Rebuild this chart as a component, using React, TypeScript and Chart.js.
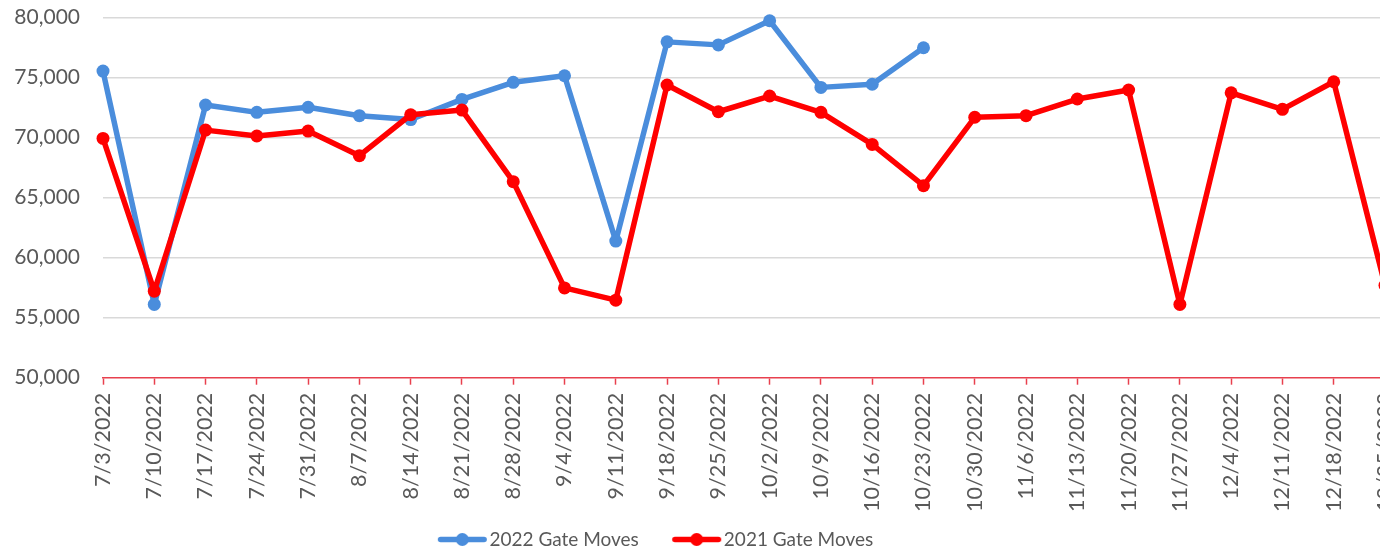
import React, { useEffect, useRef } from "react";
import { Chart, registerables } from "chart.js";

Chart.register(...registerables);

const categories = [
  "7/3/2022", "7/10/2022", "7/17/2022", "7/24/2022", "7/31/2022", "8/7/2022",
  "8/14/2022", "8/21/2022", "8/28/2022", "9/4/2022", "9/11/2022", "9/18/2022",
  "9/25/2022", "10/2/2022", "10/9/2022", "10/16/2022", "10/23/2022", "10/30/2022",
  "11/6/2022", "11/13/2022", "11/20/2022", "11/27/2022", "12/4/2022", "12/11/2022",
  "12/18/2022", "12/25/2022",
];

const gateMoves2022: (number | null)[] = [
  75540, 56100, 72710, 72100, 72520, 71820, 71500, 73180, 74600, 75150, 61380, 77970,
  77720, 79730, 74180, 74440, 77480, null, null, null, null, null, null, null, null, null,
];

const gateMoves2021: number[] = [
  69930, 57210, 70620, 70130, 70540, 68490, 71900, 72290, 66330, 57480, 56460, 74380,
  72150, 73460, 72100, 69430, 65990, 71690, 71820, 73210, 73960, 56100, 73730, 72350,
  74650, 57700,
];

const seriesLabels = ["2022 Gate Moves", "2021 Gate Moves"];
const yMin = 50000;
const yMax = 80000;
const yStep = 5000;

const BLUE = "#4a8ddc";
const RED = "#ff0000";
const TEXT = "#595959";
const GRID = "#d9d9d9";
const AXIS = "#e8404e";

const SHIFT = 90;
const PAD_R = 40;
const CANVAS_W = 1515;
const CANVAS_H = 551;

function legendIcon(color: string): HTMLCanvasElement {
  const c = document.createElement("canvas");
  c.width = 74;
  c.height = 15;
  const g = c.getContext("2d")!;
  const cx = 48.45;
  g.strokeStyle = color;
  g.lineWidth = 5.5;
  g.lineCap = "round";
  g.beginPath();
  g.moveTo(cx - 21.75, 7.5);
  g.lineTo(cx + 21.75, 7.5);
  g.stroke();
  g.fillStyle = color;
  g.beginPath();
  g.arc(cx, 7.5, 6.5, 0, Math.PI * 2);
  g.fill();
  return c;
}

export default function App() {
  const ref = useRef<HTMLCanvasElement>(null);

  useEffect(() => {
    const canvas = ref.current!;
    const icons: Record<string, HTMLCanvasElement> = {
      [seriesLabels[0]]: legendIcon(BLUE),
      [seriesLabels[1]]: legendIcon(RED),
    };
    const lineStyle = {
      borderWidth: 5.5,
      borderJoinStyle: "round" as const,
      borderCapStyle: "round" as const,
      pointRadius: 6.5,
      pointBorderWidth: 0,
      tension: 0,
      clip: false as const,
    };
    const chart = new Chart(canvas, {
      type: "line",
      data: {
        labels: categories,
        datasets: [
          {
            label: seriesLabels[1],
            data: gateMoves2021,
            borderColor: RED,
            backgroundColor: RED,
            pointBackgroundColor: RED,
            pointBorderColor: RED,
            ...lineStyle,
          },
          {
            label: seriesLabels[0],
            data: gateMoves2022,
            borderColor: BLUE,
            backgroundColor: BLUE,
            pointBackgroundColor: BLUE,
            pointBorderColor: BLUE,
            spanGaps: false,
            ...lineStyle,
          },
        ],
      },
      options: {
        responsive: false,
        maintainAspectRatio: false,
        animation: false,
        events: [],
        layout: { padding: { left: 0, right: PAD_R, top: 17.5, bottom: -8 } },
        scales: {
          x: {
            type: "category",
            offset: false,
            grid: {
              drawOnChartArea: false,
              drawTicks: true,
              tickLength: 7,
              tickColor: AXIS,
              tickWidth: 1.5,
              color: AXIS,
            },
            border: { display: true, color: AXIS, width: 1.5 },
            ticks: {
              autoSkip: false,
              minRotation: 90,
              maxRotation: 90,
              padding: 8,
              color: TEXT,
              font: { family: "Lato", size: 21.5 },
            },
            afterFit: (s: any) => {
              s.height = 135;
            },
          },
          y: {
            min: yMin,
            max: yMax,
            ticks: {
              stepSize: yStep,
              padding: 0,
              color: TEXT,
              font: { family: "Lato", size: 21 },
              callback: (v: any) => Number(v).toLocaleString("en-US"),
            },
            grid: {
              color: (ctx: any) =>
                ctx.tick && ctx.tick.value === yMin ? "rgba(0,0,0,0)" : GRID,
              lineWidth: 1.5,
              drawTicks: true,
              tickLength: 23,
              tickColor: "rgba(0,0,0,0)",
            },
            border: { display: false },
            afterFit: (s: any) => {
              s.width = 103 + SHIFT;
            },
          },
        },
        plugins: {
          legend: {
            position: "bottom",
            reverse: true,
            labels: {
              usePointStyle: true,
              pointStyleWidth: 58.2,
              padding: 17.3,
              color: TEXT,
              font: { family: "Lato", size: 19 },
              generateLabels: (c: any) =>
                (Chart.defaults.plugins.legend.labels as any)
                  .generateLabels(c)
                  .map((item: any) => ({ ...item, pointStyle: icons[item.text] })),
            },
          },
          tooltip: { enabled: false },
        },
      },
    });
    return () => chart.destroy();
  }, []);

  return (
    <div
      style={{
        position: "fixed",
        left: 0,
        top: 0,
        width: 1380,
        height: 551,
        overflow: "hidden",
        background: "#ffffff",
      }}
    >
      <canvas
        ref={ref}
        width={CANVAS_W}
        height={CANVAS_H}
        style={{ position: "absolute", left: -SHIFT, top: 0, display: "block" }}
      />
    </div>
  );
}
